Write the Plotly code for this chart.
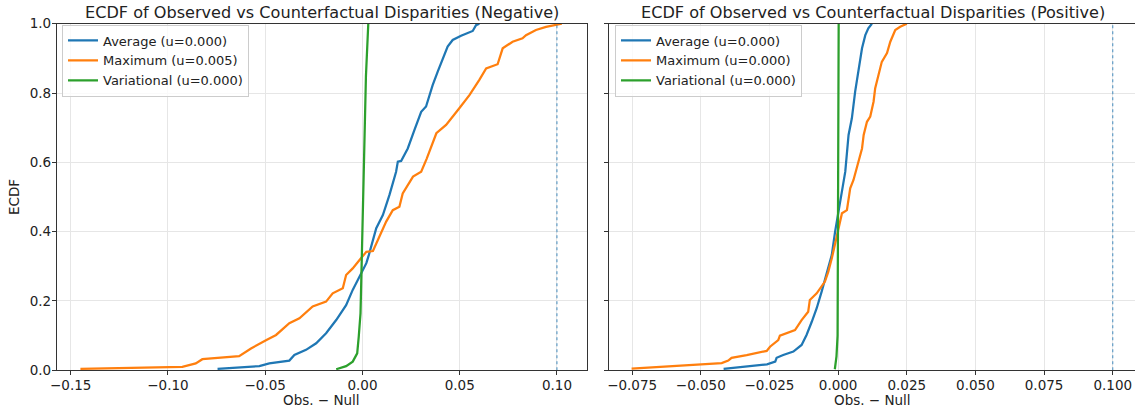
import plotly.graph_objects as go

# ---------------- data ----------------
neg_avg_x = [-0.0745, -0.053, -0.0479, -0.0376, -0.035, -0.029, -0.0238, -0.0187, -0.0135, -0.0084,
             -0.005, -0.0015, 0.002, 0.0033, 0.0071, 0.0105, 0.0139, 0.0173, 0.0182, 0.0199, 0.0233,
             0.0267, 0.0302, 0.0327, 0.0361, 0.0387, 0.0413, 0.0438, 0.0464, 0.0507, 0.0567, 0.0584, 0.0601]
neg_avg_y = [0.004, 0.012, 0.020, 0.028, 0.044, 0.059, 0.078, 0.107, 0.145, 0.188,
             0.232, 0.270, 0.309, 0.333, 0.41, 0.448, 0.506, 0.573, 0.602, 0.604, 0.64,
             0.693, 0.746, 0.761, 0.823, 0.862, 0.90, 0.934, 0.953, 0.965, 0.979, 0.996, 1.0]

neg_max_x = [-0.145, -0.0926, -0.0857, -0.0823, -0.0634, -0.0573, -0.0496, -0.0444, -0.0376, -0.0324,
             -0.0256, -0.0187, -0.0153, -0.0101, -0.0084, -0.005, -0.0015, 0.002, 0.0054, 0.008,
             0.0122, 0.0156, 0.019, 0.0207, 0.026, 0.0302, 0.033, 0.038, 0.043, 0.0498, 0.055,
             0.0601, 0.0636, 0.0695, 0.0721, 0.0772, 0.0823, 0.0841, 0.0892, 0.0944, 0.1025]
neg_max_y = [0.004, 0.010, 0.020, 0.032, 0.041, 0.063, 0.087, 0.102, 0.136, 0.150,
             0.184, 0.198, 0.222, 0.237, 0.275, 0.294, 0.318, 0.342, 0.344, 0.376,
             0.429, 0.462, 0.472, 0.51, 0.559, 0.573, 0.61, 0.684, 0.708, 0.756, 0.794,
             0.838, 0.871, 0.883, 0.929, 0.948, 0.958, 0.967, 0.982, 0.991, 1.0]

neg_var_x = [-0.0135, -0.0084, -0.005, -0.0027, -0.0019, -0.001, -0.0006, 0.0, 0.001, 0.0018, 0.0030]
neg_var_y = [0.003, 0.012, 0.025, 0.049, 0.097, 0.164, 0.26, 0.40, 0.70, 0.85, 1.0]

pos_avg_x = [-0.0417, -0.0259, -0.0229, -0.0224, -0.0200, -0.0163, -0.0133, -0.0115, -0.0096, -0.0078,
             -0.006, -0.0042, -0.0023, -0.0011, 0.0002, 0.0014, 0.0026, 0.0038, 0.005, 0.0062,
             0.0075, 0.0087, 0.0099, 0.011, 0.0123]
pos_avg_y = [0.004, 0.017, 0.025, 0.036, 0.044, 0.054, 0.073, 0.102, 0.140, 0.179,
             0.227, 0.275, 0.333, 0.40, 0.458, 0.515, 0.573, 0.679, 0.727, 0.804,
             0.871, 0.929, 0.967, 0.987, 1.0]

pos_max_x = [-0.0752, -0.0424, -0.040, -0.0388, -0.0333, -0.026, -0.0248, -0.0218, -0.0212, -0.0157,
             -0.0133, -0.0109, -0.0103, -0.0078, -0.0048, -0.0036, -0.0023, -0.0005, 0.0014, 0.0032,
             0.0044, 0.0056, 0.0075, 0.0087, 0.0093, 0.0105, 0.0117, 0.0129, 0.0135, 0.0153,
             0.0159, 0.0178, 0.019, 0.0208, 0.0226, 0.025]
pos_max_y = [0.005, 0.021, 0.028, 0.036, 0.044, 0.056, 0.068, 0.087, 0.10, 0.116,
             0.145, 0.169, 0.203, 0.222, 0.256, 0.284, 0.323, 0.390, 0.453, 0.462,
             0.525, 0.549, 0.602, 0.64, 0.679, 0.717, 0.732, 0.775, 0.814, 0.866,
             0.89, 0.915, 0.948, 0.982, 0.991, 1.0]

pos_var_x = [-0.0012, -0.0006, -0.0002, 0.0, 0.0002]
pos_var_y = [0.003, 0.04, 0.1, 0.5, 1.0]

neg_labels = ["Average (u=0.000)", "Maximum (u=0.005)", "Variational (u=0.000)"]
pos_labels = ["Average (u=0.000)", "Maximum (u=0.000)", "Variational (u=0.000)"]
threshold = 0.1

titles = ["ECDF of Observed vs Counterfactual Disparities (Negative)",
          "ECDF of Observed vs Counterfactual Disparities (Positive)"]
xlabel = "Obs. \u2212 Null"
ylabel = "ECDF"

# ---------------- styling ----------------
W, H = 1135, 412
FONT = "DejaVu Sans"
colors = ["#1f77b4", "#ff7f0e", "#2ca02c"]
LW = 2.25
AX = "#333333"
GRID = "#e6e6e6"
TICKF = 13.5
LEGF = 13
TITLEF = 16.1

dom1 = [56.7 / W, 586.7 / W]
dom2 = [608.7 / W, 1.0]
ydom = [1 - 370.3 / H, 1 - 23.7 / H]

fig = go.Figure()

neg = [(neg_avg_x, neg_avg_y), (neg_max_x, neg_max_y), (neg_var_x, neg_var_y)]
pos = [(pos_avg_x, pos_avg_y), (pos_max_x, pos_max_y), (pos_var_x, pos_var_y)]

for i, (xs, ys) in enumerate(neg):
    fig.add_trace(go.Scatter(x=xs, y=ys, mode="lines", name=neg_labels[i],
                             line=dict(color=colors[i], width=LW),
                             xaxis="x", yaxis="y", legend="legend"))
for i, (xs, ys) in enumerate(pos):
    fig.add_trace(go.Scatter(x=xs, y=ys, mode="lines", name=pos_labels[i],
                             line=dict(color=colors[i], width=LW),
                             xaxis="x2", yaxis="y2", legend="legend2"))

for xa, ya in [("x", "y"), ("x2", "y2")]:
    fig.add_trace(go.Scatter(x=[threshold, threshold], y=[0, 1], mode="lines",
                             line=dict(color="rgba(31,119,180,0.75)", width=1.1, dash="dot"),
                             showlegend=False, xaxis=xa, yaxis=ya, hoverinfo="skip"))

axis_common = dict(showline=True, linecolor=AX, linewidth=0.9, mirror=True,
                   ticks="outside", ticklen=3.9, tickwidth=0.9, tickcolor=AX,
                   showgrid=True, gridcolor=GRID, gridwidth=0.9, zeroline=False,
                   automargin=False,
                   tickfont=dict(family=FONT, size=TICKF, color="#222222"))

legend_common = dict(bgcolor="rgba(255,255,255,0.8)", bordercolor="#cccccc", borderwidth=1,
                     font=dict(family=FONT, size=LEGF, color="#222222"),
                     xanchor="left", yanchor="top", tracegroupgap=0)

fig.update_layout(
    width=W, height=H,
    margin=dict(l=0, r=0, t=0, b=0, autoexpand=False),
    paper_bgcolor="white", plot_bgcolor="white",
    font=dict(family=FONT, color="#222222"),
    xaxis=dict(domain=dom1, range=[-0.1572, 0.1153], tickvals=[-0.15, -0.10, -0.05, 0.0, 0.05, 0.10],
               tickformat=".2f", anchor="y", ticklabelstandoff=-1, **axis_common),
    yaxis=dict(domain=ydom, range=[0, 1], tickvals=[0, 0.2, 0.4, 0.6, 0.8, 1.0], tickformat=".1f",
               anchor="x", ticklabelstandoff=-2, **axis_common),
    xaxis2=dict(domain=dom2, range=[-0.08354, 0.1081],
                tickvals=[-0.075, -0.05, -0.025, 0.0, 0.025, 0.05, 0.075, 0.1],
                tickformat=".3f", anchor="y2", ticklabelstandoff=-1, **axis_common),
    yaxis2=dict(domain=ydom, range=[0, 1], tickvals=[0, 0.2, 0.4, 0.6, 0.8, 1.0],
                showticklabels=False, anchor="x2", **axis_common),
    legend=dict(x=62 / W, y=1 - 24.5 / H, **legend_common),
    legend2=dict(x=615 / W, y=1 - 24.5 / H, **legend_common),
    showlegend=True,
)

ann = []
centers = [(dom1[0] + dom1[1]) / 2, 872.9 / W]
for c, t in zip(centers, titles):
    ann.append(dict(text=t, x=c, y=1 - 12.5 / H, xref="paper", yref="paper", showarrow=False,
                    xanchor="center", yanchor="middle", font=dict(family=FONT, size=TITLEF, color="#222222")))
for c in centers:
    ann.append(dict(text=xlabel, x=c, y=1 - 400 / H, xref="paper", yref="paper", showarrow=False,
                    xanchor="center", yanchor="middle", font=dict(family=FONT, size=TICKF, color="#222222")))
ann.append(dict(text=ylabel, x=14 / W, y=(ydom[0] + ydom[1]) / 2, xref="paper", yref="paper",
                showarrow=False, textangle=-90, xanchor="center", yanchor="middle",
                font=dict(family=FONT, size=TICKF, color="#222222")))
fig.update_layout(annotations=ann)

fig.write_html("out.html", config={"displayModeBar": False},
               post_script="document.body.style.margin='0px';")
